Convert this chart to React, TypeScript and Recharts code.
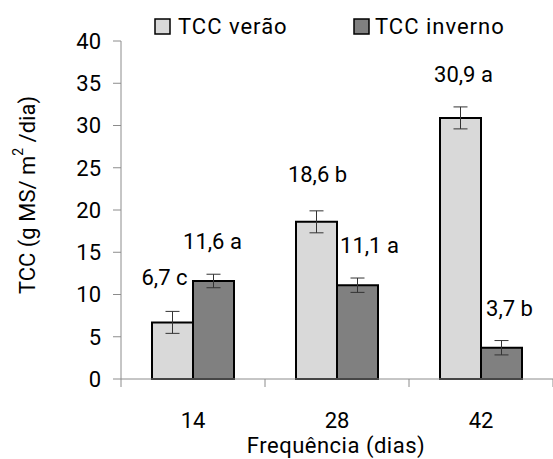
import React from 'react';
import { BarChart, Bar, XAxis, YAxis, ErrorBar, LabelList, Customized } from 'recharts';

const categories = ['14', '28', '42'];
const seriesNames = ['TCC verão', 'TCC inverno'];
const veraoValues = [6.7, 18.6, 30.9];
const invernoValues = [11.6, 11.1, 3.7];
const veraoErrors = [1.3, 1.3, 1.3];
const invernoErrors = [0.8, 0.85, 0.85];
const veraoLabels = ['6,7 c', '18,6 b', '30,9 a'];
const invernoLabels = ['11,6 a', '11,1 a', '3,7 b'];
const yTicks = [0, 5, 10, 15, 20, 25, 30, 35, 40];

// label placement offsets (layout only)
const veraoLabelDx = [-8, 1, 3];
const veraoLabelDy = [-45, -47, -43];
const invernoLabelDx = [-1, 12, 8];
const invernoLabelDy = [-39, -40, -39];

const FONT = 'Roboto, "Noto Sans", sans-serif';
const FS = 22;
const VERAO_COLOR = '#d9d9d9';
const INVERNO_COLOR = '#808080';
const AXIS_COLOR = '#8c8c8c';
const X_TICK_GAP = 33;

const data = categories.map((c, i) => ({
  cat: c,
  verao: veraoValues[i],
  inverno: invernoValues[i],
  veraoErr: veraoErrors[i],
  invernoErr: invernoErrors[i],
  veraoLabel: veraoLabels[i],
  invernoLabel: invernoLabels[i],
}));

const makeLabel = (dxs: number[], dys: number[]) => (props: any) => {
  const vb = props.viewBox || {};
  const x = props.x ?? vb.x;
  const y = props.y ?? vb.y;
  const w = props.width ?? vb.width;
  const i = props.index ?? 0;
  return (
    <text
      x={x + w / 2 + dxs[i]}
      y={y + dys[i]}
      textAnchor="middle"
      dominantBaseline="central"
      fontFamily={FONT}
      fontSize={FS}
      fill="#000"
    >
      {props.value}
    </text>
  );
};

const XTick = (props: any) => {
  const { x, y, payload, index } = props;
  const off = payload?.offset ?? 0;
  const axisY = y - X_TICK_GAP;
  const last = index === categories.length - 1;
  return (
    <g>
      <line x1={x - off} y1={axisY} x2={x - off} y2={axisY + 8} stroke={AXIS_COLOR} />
      {last && <line x1={x + off} y1={axisY} x2={x + off} y2={axisY + 8} stroke={AXIS_COLOR} />}
      <text x={x} y={y} dy="0.71em" textAnchor="middle" fontFamily={FONT} fontSize={FS} fill="#000">
        {payload.value}
      </text>
    </g>
  );
};

const Extras = () => (
  <g fontFamily={FONT} fontSize={FS} fill="#000">
    <rect x={155} y={19} width={15} height={15} fill={VERAO_COLOR} stroke="#000" strokeWidth={1.5} />
    <text x={178} y={26} dominantBaseline="central" letterSpacing={1}>{seriesNames[0]}</text>
    <rect x={354} y={19} width={15} height={15} fill={INVERNO_COLOR} stroke="#000" strokeWidth={1.5} />
    <text x={375} y={26} dominantBaseline="central" letterSpacing={1}>{seriesNames[1]}</text>
    <text
      x={27}
      y={195}
      textAnchor="middle"
      dominantBaseline="central"
      transform="rotate(-90, 27, 195)"
    >
      TCC (g MS/ m<tspan dy={-9} fontSize={14}>2</tspan><tspan dy={9}> /dia)</tspan>
    </text>
    <text x={336} y={445} textAnchor="middle" dominantBaseline="central" letterSpacing={0.5}>
      Frequência (dias)
    </text>
  </g>
);

export default function App() {
  return (
    <div style={{ position: 'absolute', left: 0, top: 0, background: '#fff' }}>
      <BarChart
        width={553}
        height={459}
        data={data}
        margin={{ top: 41, right: 0, bottom: 0, left: 0 }}
        barGap={0}
        barSize={41}
      >
        <XAxis
          dataKey="cat"
          axisLine={{ stroke: AXIS_COLOR }}
          tickLine={false}
          tickSize={0}
          tickMargin={X_TICK_GAP}
          height={80}
          interval={0}
          tick={<XTick />}
        />
        <YAxis
          domain={[0, 40]}
          ticks={yTicks}
          width={121}
          axisLine={{ stroke: AXIS_COLOR }}
          tickLine={{ stroke: AXIS_COLOR }}
          tickSize={8}
          tickMargin={12}
          tick={{ fill: '#000', fontSize: FS, fontFamily: FONT }}
        />
        <Bar dataKey="verao" fill={VERAO_COLOR} stroke="#000" strokeWidth={2} isAnimationActive={false}>
          <ErrorBar dataKey="veraoErr" width={7} stroke="#333" strokeWidth={1} />
          <LabelList dataKey="veraoLabel" content={makeLabel(veraoLabelDx, veraoLabelDy)} />
        </Bar>
        <Bar dataKey="inverno" fill={INVERNO_COLOR} stroke="#000" strokeWidth={2} isAnimationActive={false}>
          <ErrorBar dataKey="invernoErr" width={7} stroke="#333" strokeWidth={1} />
          <LabelList dataKey="invernoLabel" content={makeLabel(invernoLabelDx, invernoLabelDy)} />
        </Bar>
        <Customized component={Extras} />
      </BarChart>
    </div>
  );
}
